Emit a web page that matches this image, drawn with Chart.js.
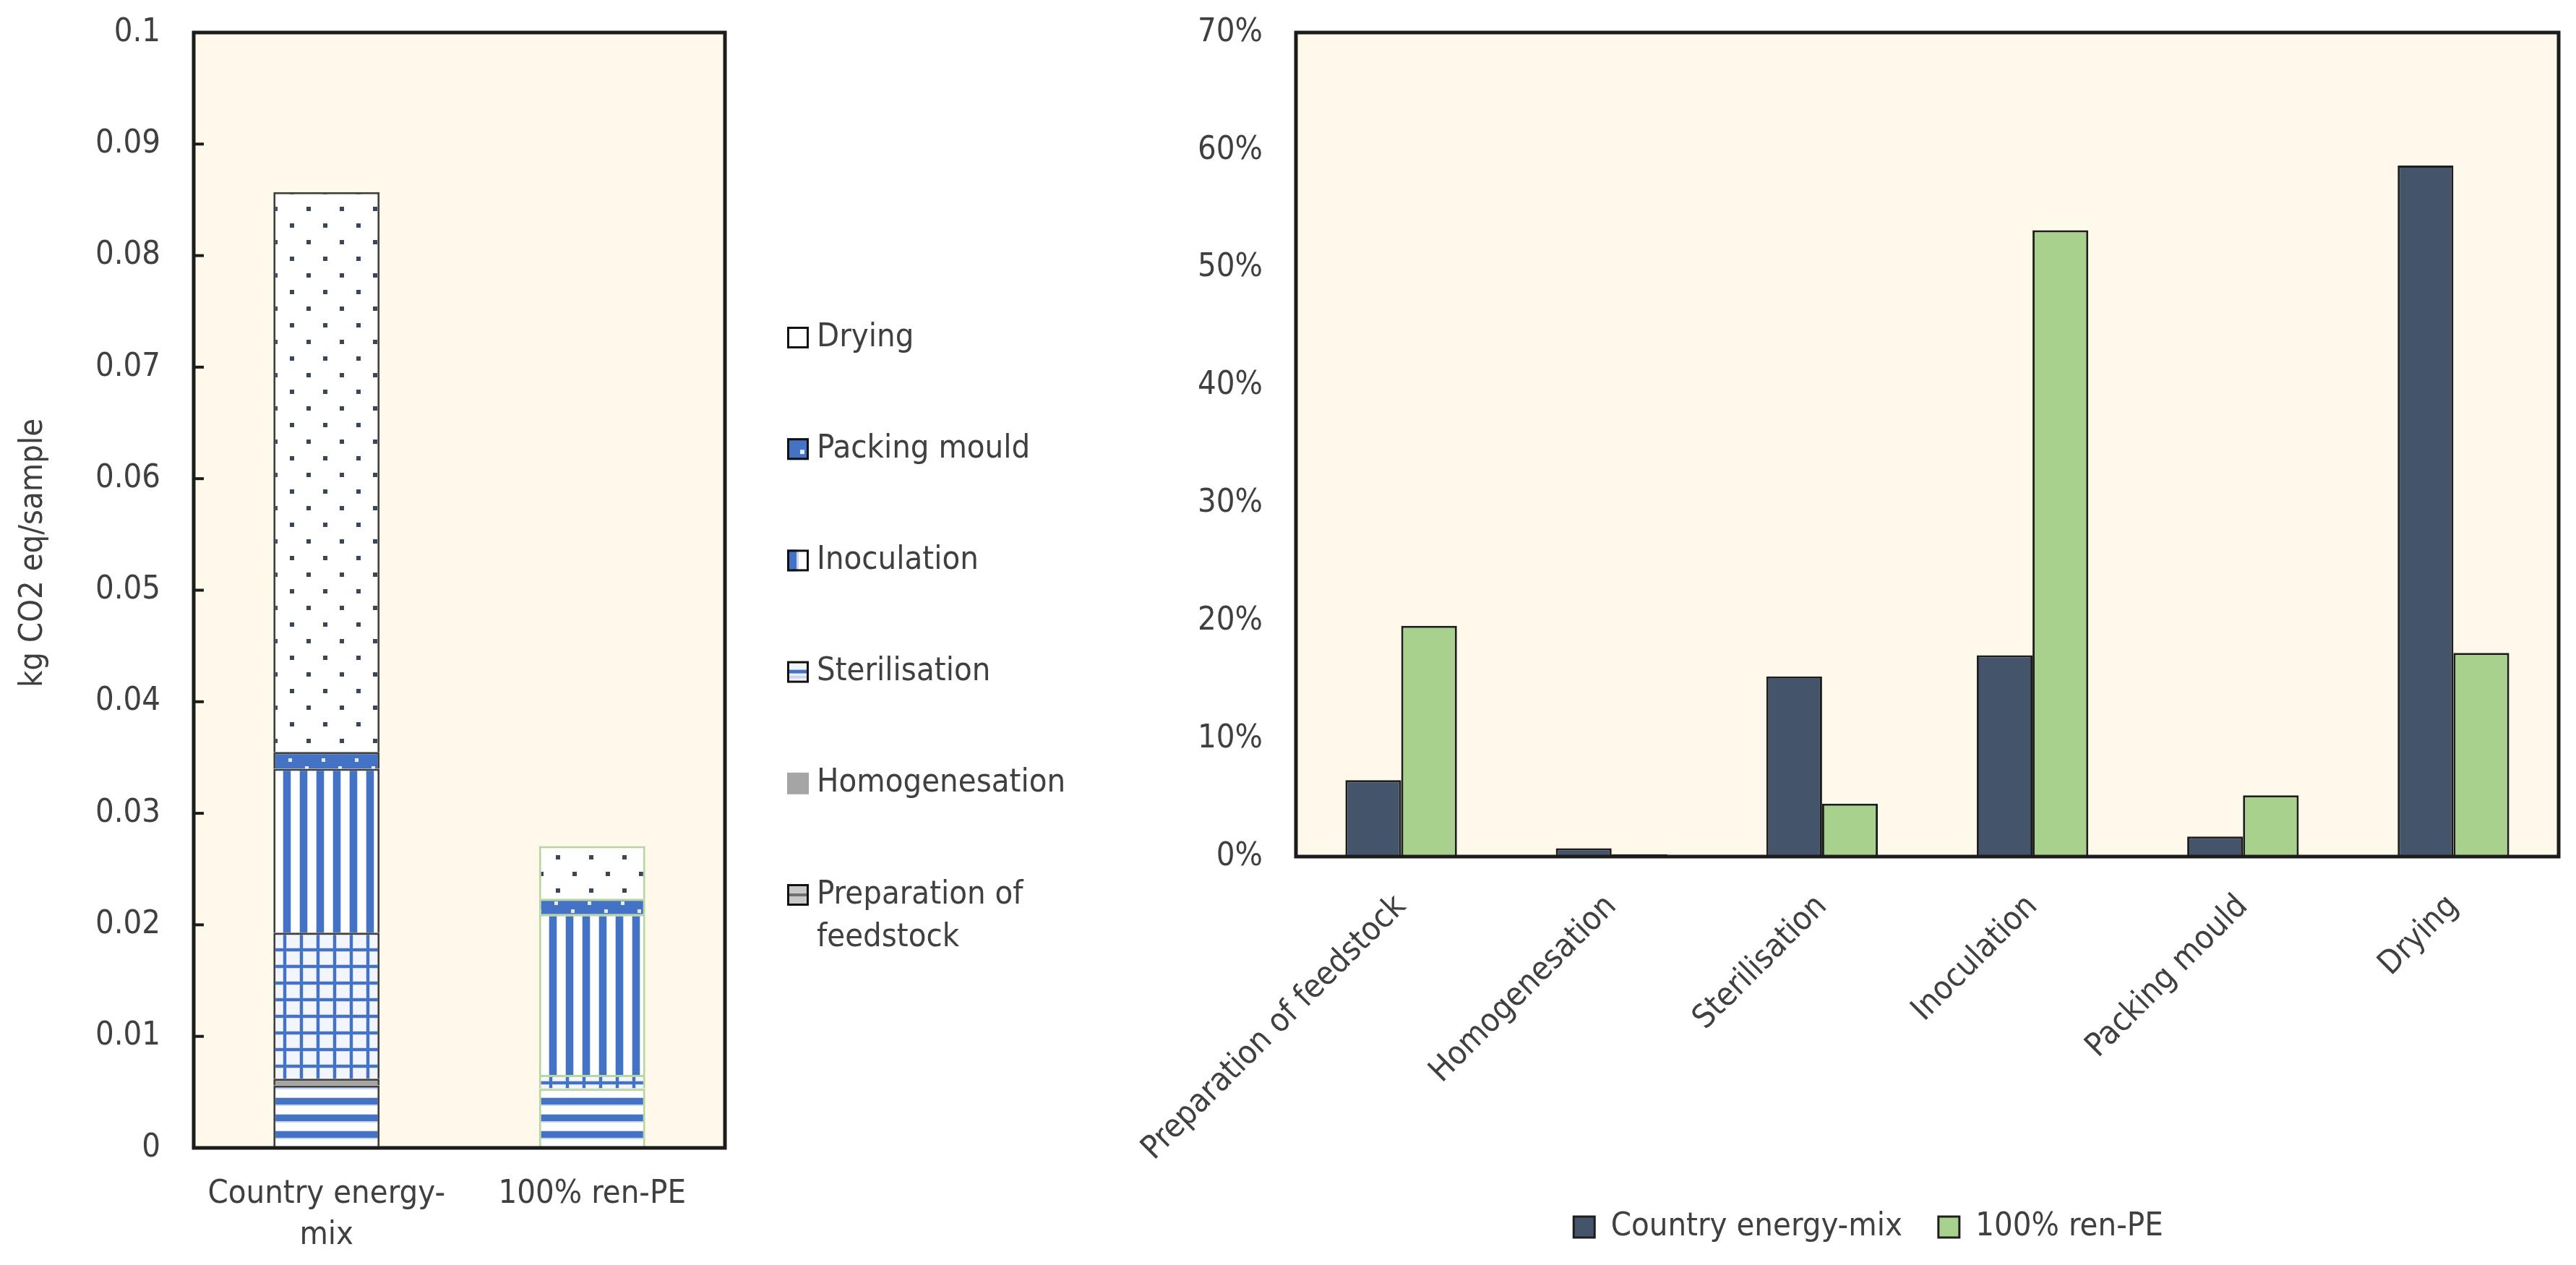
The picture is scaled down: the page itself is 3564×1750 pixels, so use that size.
<!DOCTYPE html>
<html>
<head>
<meta charset="utf-8">
<script src="https://cdn.jsdelivr.net/npm/chart.js@4.4.1/dist/chart.umd.min.js"></script>
<style>
  html, body { margin: 0; padding: 0; background: #ffffff; width: 3564px; height: 1750px; overflow: hidden; position: relative; }
  #stackChart { position: absolute; left: 0; top: 0; }
  #shareChart { position: absolute; left: 1540px; top: 0; }
</style>
</head>
<body>
<canvas id="stackChart" width="1560" height="1750"></canvas>
<canvas id="shareChart" width="2024" height="1750"></canvas>
<script>
// ---------------- DATA ----------------
// Left chart: absolute contributions (kg CO2 eq/sample)
const stackCategories = [['Country energy-', 'mix'], '100% ren-PE'];
const stageNames = ['Preparation of feedstock', 'Homogenesation', 'Sterilisation', 'Inoculation', 'Packing mould', 'Drying'];
const prepValues    = [0.0056, 0.0053];
const homogValues   = [0.0006, 0.00005];
const sterilValues  = [0.0131, 0.0012];
const inocValues    = [0.0147, 0.0144];
const packingValues = [0.0015, 0.0014];
const dryingValues  = [0.0502, 0.0047];
const leftTickLabels = ['0', '0.01', '0.02', '0.03', '0.04', '0.05', '0.06', '0.07', '0.08', '0.09', '0.1'];
const leftAxisTitle = 'kg CO2 eq/sample';

// Right chart: relative contributions (%)
const processCategories = ['Preparation of feedstock', 'Homogenesation', 'Sterilisation', 'Inoculation', 'Packing mould', 'Drying'];
const seriesNames = ['Country energy-mix', '100% ren-PE'];
const countryShare = [6.5, 0.7, 15.3, 17.1, 1.7, 58.7];
const renShare     = [19.6, 0.2, 4.5, 53.2, 5.2, 17.3];
const rightTickLabels = ['0%', '10%', '20%', '30%', '40%', '50%', '60%', '70%'];

// ---------------- STYLE ----------------
const FONT = '"DejaVu Sans Condensed", "Liberation Sans Narrow", "Noto Sans", "DejaVu Sans", sans-serif';
const TEXT = '#404040';
const BLUE = '#4472C4';
const PALE = '#c9d6ee';
const CREAM = '#FEF9EB';
const FRAME = '#1c1c1c';

Chart.defaults.font.family = FONT;
Chart.defaults.font.size = 45;
Chart.defaults.color = TEXT;

function makePattern(w, h, draw) {
  const c = document.createElement('canvas');
  c.width = w; c.height = h;
  const g = c.getContext('2d');
  draw(g, w, h);
  return g.createPattern(c, 'repeat');
}
const patPrep = makePattern(23, 23, g => {
  g.fillStyle = '#ffffff'; g.fillRect(0, 0, 23, 23);
  g.fillStyle = PALE; g.fillRect(0, 0, 23, 12);
  g.fillStyle = BLUE; g.fillRect(0, 1, 23, 9);
});
const patSteril = makePattern(23, 23, g => {
  g.fillStyle = '#f2f6fc'; g.fillRect(0, 0, 23, 23);
  g.fillStyle = PALE; g.fillRect(0, 0, 23, 6); g.fillRect(0, 0, 6, 23);
  g.fillStyle = BLUE; g.fillRect(0, 1, 23, 4); g.fillRect(1, 0, 4, 23);
});
const patInoc = makePattern(23, 23, g => {
  g.fillStyle = '#ffffff'; g.fillRect(0, 0, 23, 23);
  g.fillStyle = PALE; g.fillRect(0, 0, 12, 23);
  g.fillStyle = BLUE; g.fillRect(1, 0, 10, 23);
});
const patPack = makePattern(46, 22, g => {
  g.fillStyle = BLUE; g.fillRect(0, 0, 46, 22);
  g.fillStyle = '#e4ecfa'; g.fillRect(8, 4, 5, 5); g.fillRect(31, 15, 5, 5);
});
const patDry = makePattern(46, 46, g => {
  g.fillStyle = '#ffffff'; g.fillRect(0, 0, 46, 46);
  g.fillStyle = '#3a4758'; g.fillRect(10, 10, 6, 6); g.fillRect(33, 33, 6, 6);
});
const stackFills = [patPrep, '#A5A5A5', patSteril, patInoc, patPack, patDry];
const stackValues = [prepValues, homogValues, sterilValues, inocValues, packingValues, dryingValues];

// small legend icons (style only)
const legendIcons = [
  g => { g.fillStyle = '#c8c8c8'; g.fillRect(0, 0, 30, 30); g.fillStyle = '#6f6f6f'; g.fillRect(0, 13, 30, 4); },
  g => { g.fillStyle = '#A5A5A5'; g.fillRect(0, 0, 30, 30); },
  g => { g.fillStyle = '#f2f6fc'; g.fillRect(0, 0, 30, 30); g.fillStyle = BLUE; g.fillRect(0, 12, 30, 5); g.fillStyle = PALE; g.fillRect(0, 20, 30, 4); },
  g => { g.fillStyle = '#ffffff'; g.fillRect(0, 0, 30, 30); g.fillStyle = BLUE; g.fillRect(0, 0, 13, 30); g.fillStyle = PALE; g.fillRect(13, 0, 3, 30); },
  g => { g.fillStyle = BLUE; g.fillRect(0, 0, 30, 30); g.fillStyle = '#e4ecfa'; g.fillRect(18, 16, 6, 6); },
  g => { g.fillStyle = '#ffffff'; g.fillRect(0, 0, 30, 30); }
];
const legendLines = [['Preparation of', 'feedstock'], ['Homogenesation'], ['Sterilisation'], ['Inoculation'], ['Packing mould'], ['Drying']];

// ---------------- PLUGINS ----------------
const plotFrame = {
  id: 'plotFrame',
  beforeDraw(chart) {
    const { ctx, chartArea: a } = chart;
    ctx.save();
    ctx.fillStyle = CREAM;
    ctx.fillRect(a.left, a.top, a.width, a.height);
    ctx.restore();
  },
  afterDatasetsDraw(chart, args, opts) {
    const { ctx, chartArea: a } = chart;
    ctx.save();
    if (opts.innerTicks) {
      const ys = chart.scales.y;
      ctx.strokeStyle = FRAME; ctx.lineWidth = 4;
      ys.ticks.forEach((t, i) => {
        const py = ys.getPixelForTick(i);
        ctx.beginPath(); ctx.moveTo(a.left, py); ctx.lineTo(a.left + 14, py); ctx.stroke();
      });
    }
    ctx.strokeStyle = FRAME; ctx.lineWidth = 5;
    ctx.strokeRect(a.left, a.top, a.width, a.height);
    ctx.restore();
  },
  afterDraw(chart, args, opts) {
    if (!opts.yTitle) return;
    const { ctx } = chart;
    ctx.save();
    ctx.translate(opts.yTitle.x, opts.yTitle.y);
    ctx.rotate(-Math.PI / 2);
    ctx.font = '45px ' + FONT;
    ctx.fillStyle = TEXT;
    ctx.textAlign = 'center';
    ctx.textBaseline = 'middle';
    ctx.fillText(opts.yTitle.text, 0, 0);
    ctx.restore();
  }
};

const sideLegend = {
  id: 'sideLegend',
  afterDraw(chart, args, o) {
    const { ctx } = chart;
    const ds = chart.data.datasets;
    ctx.save();
    ctx.font = '45px ' + FONT;
    ctx.textBaseline = 'middle';
    ctx.textAlign = 'left';
    for (let k = 0; k < ds.length; k++) {
      const idx = ds.length - 1 - k;
      const cy = o.top + k * o.step;
      const bx = chart.chartArea.right + o.gap;
      const by = cy - 15;
      ctx.save();
      ctx.translate(bx, by);
      legendIcons[idx](ctx);
      if (idx !== 1) { ctx.strokeStyle = '#111'; ctx.lineWidth = 3; ctx.strokeRect(1.5, 1.5, 27, 27); }
      ctx.restore();
      ctx.fillStyle = TEXT;
      legendLines[idx].forEach((line, j) => ctx.fillText(line, bx + 41, cy + j * 59));
    }
    ctx.restore();
  }
};

// ---------------- LEFT CHART ----------------
new Chart(document.getElementById('stackChart'), {
  type: 'bar',
  data: {
    labels: stackCategories,
    datasets: stageNames.map((name, i) => ({
      label: name,
      data: stackValues[i],
      backgroundColor: stackFills[i],
      borderColor: ['#404040', '#b7d6a2'],
      borderWidth: 3,
      barPercentage: 0.8,
      categoryPercentage: 0.5
    }))
  },
  options: {
    responsive: false,
    devicePixelRatio: 1,
    animation: false,
    layout: { padding: { left: 0, right: 557, top: 45, bottom: 0 } },
    plugins: {
      legend: { display: false },
      tooltip: { enabled: false },
      plotFrame: { innerTicks: true, yTitle: { text: leftAxisTitle, x: 46, y: 765 } },
      sideLegend: { top: 467, step: 154.2, gap: 86 }
    },
    scales: {
      x: {
        stacked: true,
        grid: { display: false, drawTicks: false },
        border: { display: false },
        ticks: { padding: 36, font: { size: 45, lineHeight: 1.27 }, color: TEXT, maxRotation: 0 },
        afterFit(s) { s.height = 162; s.paddingLeft = 0; s.paddingRight = 0; }
      },
      y: {
        stacked: true,
        min: 0, max: 0.1,
        grid: { display: false, drawTicks: false },
        border: { display: false },
        ticks: { stepSize: 0.01, padding: 46, color: TEXT, callback: (v, i) => leftTickLabels[i] },
        afterFit(s) { s.width = 268; s.paddingTop = 0; s.paddingBottom = 0; }
      }
    }
  },
  plugins: [plotFrame, sideLegend]
});

// ---------------- RIGHT CHART ----------------
const RIGHT_PAD_BOTTOM = 20;
new Chart(document.getElementById('shareChart'), {
  type: 'bar',
  data: {
    labels: processCategories,
    datasets: [
      { label: seriesNames[0], data: countryShare, backgroundColor: '#44546A', borderColor: '#1e1e1e', borderWidth: 3, categoryPercentage: 0.53, barPercentage: 1 },
      { label: seriesNames[1], data: renShare, backgroundColor: '#A9D18E', borderColor: '#1e1e1e', borderWidth: 3, categoryPercentage: 0.53, barPercentage: 1 }
    ]
  },
  options: {
    responsive: false,
    devicePixelRatio: 1,
    animation: false,
    layout: { padding: { left: 90, right: 24, top: 45, bottom: RIGHT_PAD_BOTTOM } },
    plugins: {
      tooltip: { enabled: false },
      plotFrame: { innerTicks: false },
      legend: {
        position: 'bottom',
        labels: { boxWidth: 29, boxHeight: 29, padding: 50, color: TEXT, font: { size: 45 } }
      }
    },
    scales: {
      x: {
        grid: { display: false, drawTicks: false },
        border: { display: false },
        ticks: { minRotation: 45, maxRotation: 45, padding: 43, color: TEXT, font: { size: 45 } },
        afterFit(s) {
          const lh = (s.chart.legend && s.chart.legend.height) ? s.chart.legend.height : 0;
          s.height = s.chart.height - RIGHT_PAD_BOTTOM - lh - 1185;
          s.paddingLeft = 0; s.paddingRight = 0;
        }
      },
      y: {
        min: 0, max: 70,
        grid: { display: false, drawTicks: false },
        border: { display: false },
        ticks: { stepSize: 10, padding: 46, color: TEXT, callback: (v, i) => rightTickLabels[i] },
        afterFit(s) { s.width = 163; s.paddingTop = 0; s.paddingBottom = 0; }
      }
    }
  },
  plugins: [plotFrame]
});
</script>
</body>
</html>
